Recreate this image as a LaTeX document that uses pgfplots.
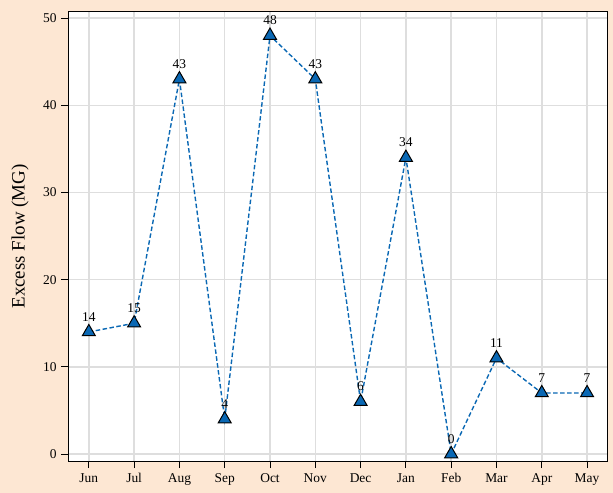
\documentclass[border=0pt]{standalone}
\usepackage{fontspec}
\setmainfont{Liberation Serif}
\usepackage{pgfplots}
\pgfplotsset{compat=1.18}
\definecolor{peach}{HTML}{FDE7D3}
\definecolor{lineblue}{HTML}{0A68B4}
\definecolor{gridgray}{HTML}{DEDEDE}
\begin{document}
\begin{tikzpicture}
\fill[peach] (-68bp,-32bp) rectangle (545bp,461bp);
\path[use as bounding box] (-68bp,-32bp) rectangle (545bp,461bp);
\begin{axis}[
  at={(0,0)}, anchor=south west,
  scale only axis,
  width=539bp, height=449bp,
  xmin=-0.46, xmax=11.44,
  ymin=-0.8, ymax=50.7,
  xtick={0,1,2,3,4,5,6,7,8,9,10,11},
  xticklabels={Jun,Jul,Aug,Sep,Oct,Nov,Dec,Jan,Feb,Mar,Apr,May},
  ytick={0,10,20,30,40,50},
  tick pos=left,
  tick align=outside,
  major tick length=7bp,
  every tick/.style={black, line width=1pt},
  axis line style={black, line width=1pt},
  axis background/.style={fill=white},
  grid=major,
  grid style={gridgray, line width=1.5pt},
  /pgf/number format/assume math mode=true,
  ticklabel style={font=\fontsize{13.5}{15}\selectfont},
  xticklabel style={anchor=north, text height=9.5bp, text depth=3bp, yshift=-1bp},
  yticklabel style={xshift=-1bp},
  ylabel={Excess Flow (MG)},
  ylabel style={font=\fontsize{19}{21}\selectfont, at={(axis description cs:-0.089,0.5)}, anchor=center},
  nodes near coords,
  every node near coord/.append style={font=\fontsize{13.5}{15}\selectfont, black, anchor=south, yshift=7bp},
]
\addplot[lineblue, dash pattern=on 4.5bp off 2.5bp, line width=1.4pt, mark=triangle*, mark size=7.5bp,
  mark options={solid, fill=lineblue, draw=black, line width=1pt}]
  coordinates {(0,14) (1,15) (2,43) (3,4) (4,48) (5,43) (6,6) (7,34) (8,0) (9,11) (10,7) (11,7)};
\end{axis}
\end{tikzpicture}
\end{document}
